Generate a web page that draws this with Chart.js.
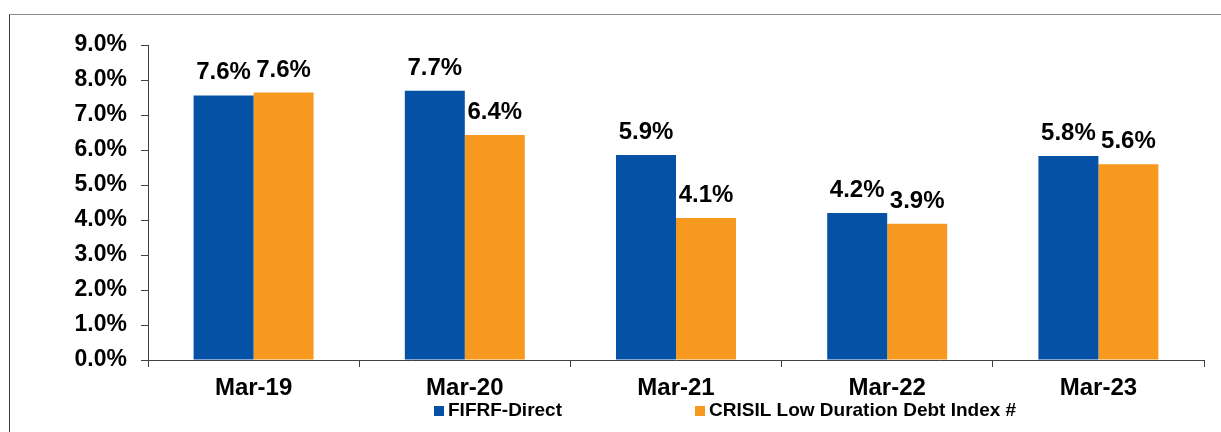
<!DOCTYPE html>
<html>
<head>
<meta charset="utf-8">
<script src="https://cdn.jsdelivr.net/npm/chart.js@4.4.0/dist/chart.umd.min.js"></script>
<style>
  body { margin: 0; background: #fff; }
  #wrap { position: relative; width: 1221px; height: 432px; overflow: hidden; }
  #frame { position: absolute; left: 9px; top: 14px; right: -2px; bottom: -2px;
           border-top: 1px solid #8c8c8c; border-left: 1px solid #3c3c3c; }
  canvas { position: absolute; left: 0; top: 0; }
</style>
</head>
<body>
<div id="wrap">
  <div id="frame"></div>
  <canvas id="myChart" width="1221" height="432"></canvas>
</div>
<script>
// Rendimentos anuais por ano fiscal
const categorias = ['Mar-19', 'Mar-20', 'Mar-21', 'Mar-22', 'Mar-23'];
const fifrfDirect = [7.56, 7.69, 5.86, 4.2, 5.83];
const crisilIndex = [7.64, 6.43, 4.06, 3.89, 5.59];
const nomesSeries = ['FIFRF-Direct', 'CRISIL Low Duration Debt Index #'];

const azul = '#0451a5';
const laranja = '#f8991f';
const fonte = '"Liberation Sans", Arial, sans-serif';

function pct(v) {
    return v.toFixed(1) + '%';
}

// Rótulos de valor acima de cada barra
const rotulosBarras = {
    id: 'rotulosBarras',
    afterDatasetsDraw(chart) {
        const ctx = chart.ctx;
        ctx.save();
        ctx.font = 'bold 24px ' + fonte;
        ctx.fillStyle = '#000';
        ctx.textAlign = 'center';
        ctx.textBaseline = 'alphabetic';
        chart.data.datasets.forEach((ds, i) => {
            chart.getDatasetMeta(i).data.forEach((bar, j) => {
                ctx.fillText(pct(ds.data[j]), bar.x, bar.y - 16);
            });
        });
        ctx.restore();
    }
};

// Legenda desenhada à mão (espaçamento largo entre os itens)
const legendaLinha = {
    id: 'legendaLinha',
    afterDraw(chart) {
        const ctx = chart.ctx;
        const itens = [
            { x: 434, cor: azul, texto: nomesSeries[0] },
            { x: 695, cor: laranja, texto: nomesSeries[1] }
        ];
        ctx.save();
        ctx.font = 'bold 19px ' + fonte;
        ctx.textBaseline = 'middle';
        itens.forEach(it => {
            ctx.fillStyle = it.cor;
            ctx.fillRect(it.x, 406, 10, 10);
            ctx.fillStyle = '#000';
            ctx.fillText(it.texto, it.x + 14, 411);
        });
        ctx.restore();
    }
};

const ctx = document.getElementById('myChart').getContext('2d');
const myChart = new Chart(ctx, {
    type: 'bar',
    data: {
        labels: categorias,
        datasets: [{
            label: nomesSeries[0],
            data: fifrfDirect,
            backgroundColor: azul,
            borderWidth: 0
        }, {
            label: nomesSeries[1],
            data: crisilIndex,
            backgroundColor: laranja,
            borderWidth: 0
        }]
    },
    options: {
        responsive: false,
        animation: false,
        events: [],
        datasets: {
            bar: {
                categoryPercentage: 0.568,
                barPercentage: 1.0
            }
        },
        layout: {
            padding: { top: 45, right: 17, bottom: 0, left: 0 }
        },
        plugins: {
            legend: { display: false },
            tooltip: { enabled: false }
        },
        scales: {
            x: {
                grid: {
                    offset: true,
                    drawOnChartArea: false,
                    tickLength: 7,
                    color: '#404040'
                },
                border: { color: '#404040', width: 1 },
                ticks: {
                    color: '#000',
                    padding: 7,
                    font: { family: fonte, size: 24, weight: 'bold' }
                },
                afterFit(scale) { scale.height = 72; }
            },
            y: {
                min: 0,
                max: 9,
                grid: {
                    drawOnChartArea: false,
                    tickLength: 7,
                    color: '#404040'
                },
                border: { color: '#404040', width: 1 },
                ticks: {
                    stepSize: 1,
                    color: '#000',
                    padding: 14,
                    font: { family: fonte, size: 23, weight: 'bold' },
                    callback: (v) => pct(v)
                },
                afterFit(scale) { scale.width = 148; }
            }
        }
    },
    plugins: [rotulosBarras, legendaLinha]
});
</script>
</body>
</html>
